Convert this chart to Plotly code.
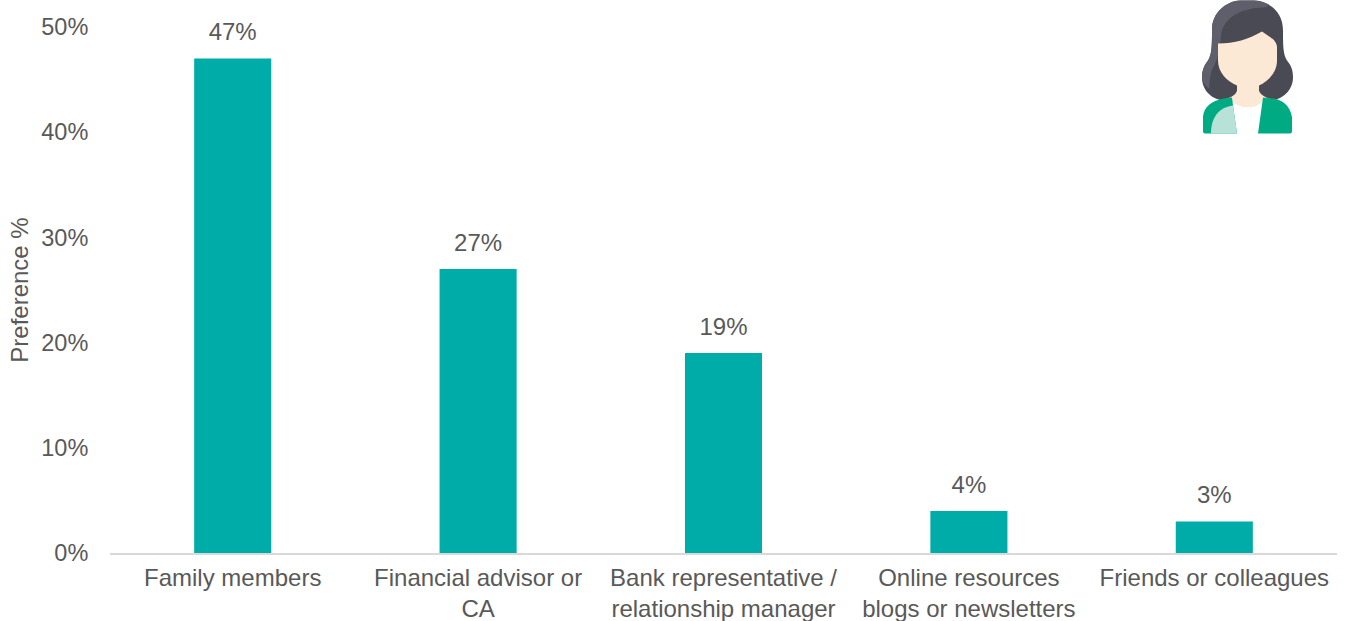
import base64
import plotly.graph_objects as go

categories = [
    "Family members",
    "Financial advisor or<br>CA",
    "Bank representative /<br>relationship manager",
    "Online resources<br>blogs or newsletters",
    "Friends or colleagues",
]
preference = [47, 27, 19, 4, 3]
value_labels = ["47%", "27%", "19%", "4%", "3%"]
y_ticks = [0, 10, 20, 30, 40, 50]
y_tick_labels = ["0%", "10%", "20%", "30%", "40%", "50%"]

WIDTH, HEIGHT = 1347, 621
LEFT, RIGHT, TOP, BOTTOM = 110, 10, 26.5, 68
TEXT = "#595959"
FONT = "Liberation Sans, Arial, sans-serif"

# Small woman icon placed in the top right corner of the chart
ICON_W, ICON_H = 130, 145
ICON_X, ICON_Y = 1180, 0
avatar_svg = f"""<svg xmlns="http://www.w3.org/2000/svg" width="{ICON_W}" height="{ICON_H}" viewBox="0 0 {ICON_W} {ICON_H}">
<path fill="#4a4a55" d="M32 28C33 10 48 -1 67 -1C88 -1 103 10 103 30C103 44 103 54 107 60C112 66 113 71 113 77C113 90 102 100 89 100L46 100C32 100 22 90 22 77C22 70 24 65 28 60C32 54 32 44 32 28Z"/>
<path fill="#5f5f6b" d="M32 28C33 10 48 -1 67 -1C76 -1 83 1 89 4C87 7 85 7 82 7C60 8 42 18 41 36L40 44C39 54 37 60 33 67C30 73 30 80 29 88C25 85 22 81 22 77C22 70 24 65 28 60C32 54 32 44 32 28Z"/>
<path fill="#fbe9d5" d="M38 43C55 43 68 39 82 31C88 36 96 38 97 46L97 60C97 72 88 81 79 85L79 90C80 94 85 97 90 98C84 103 76 107 68 107C60 107 54 103 46 98C52 97 56 94 57 90L57 85C47 81 38 72 38 60Z"/>
<path fill="#ffffff" d="M52 104C58 105 62 107 68 107C74 107 78 105 83 101L78 133L57 133Z"/>
<path fill="#00ab84" d="M25 133C24 133 23 132 23 131L23 116C24 106 32 100 44 98L52 97L53 105L57 133Z"/>
<path fill="#b8e2d8" d="M31 133C31 118 38 107 53 105L57 133Z"/>
<path fill="#00ab84" d="M78 133L83 97C90 98 96 98 100 100C107 103 111 110 112 117L112 131C112 132 111 133 110 133Z"/>
</svg>"""
avatar_uri = "data:image/svg+xml;base64," + base64.b64encode(avatar_svg.encode()).decode()

plot_w = WIDTH - LEFT - RIGHT
plot_h = HEIGHT - TOP - BOTTOM

fig = go.Figure()

fig.add_trace(
    go.Bar(
        x=categories,
        y=preference,
        marker=dict(color="#00aca8", line=dict(width=0)),
        hoverinfo="x+y",
    )
)

# Value labels sit on an invisible marker so they clear the bar tops
fig.add_trace(
    go.Scatter(
        x=categories,
        y=preference,
        mode="markers+text",
        text=value_labels,
        textposition="top center",
        textfont=dict(size=24, color=TEXT, family=FONT),
        marker=dict(size=18, opacity=0),
        cliponaxis=False,
        hoverinfo="skip",
    )
)

fig.update_layout(
    width=WIDTH,
    height=HEIGHT,
    margin=dict(l=LEFT, r=RIGHT, t=TOP, b=BOTTOM, pad=0),
    paper_bgcolor="white",
    plot_bgcolor="white",
    bargap=0.686,
    showlegend=False,
    font=dict(family=FONT, color=TEXT, size=23),
    images=[
        dict(
            source=avatar_uri,
            xref="paper",
            yref="paper",
            x=(ICON_X - LEFT) / plot_w,
            y=(HEIGHT - BOTTOM - ICON_Y) / plot_h,
            sizex=ICON_W / plot_w,
            sizey=ICON_H / plot_h,
            xanchor="left",
            yanchor="top",
            sizing="stretch",
            layer="above",
        )
    ],
)

fig.update_xaxes(
    showgrid=False,
    showline=True,
    linecolor="#d9d9d9",
    linewidth=2,
    ticks="outside",
    ticklen=2,
    tickcolor="rgba(0,0,0,0)",
    tickfont=dict(size=24, color=TEXT, family=FONT),
    automargin=False,
)
fig.update_yaxes(
    range=[0, 50],
    tickvals=y_ticks,
    ticktext=y_tick_labels,
    showgrid=False,
    showline=False,
    zeroline=False,
    ticks="outside",
    ticklen=16,
    tickcolor="rgba(0,0,0,0)",
    tickfont=dict(size=23.5, color=TEXT, family=FONT),
    title=dict(text="Preference %", font=dict(size=24, color=TEXT, family=FONT), standoff=5),
    automargin=False,
)

fig.write_html("out.html")
